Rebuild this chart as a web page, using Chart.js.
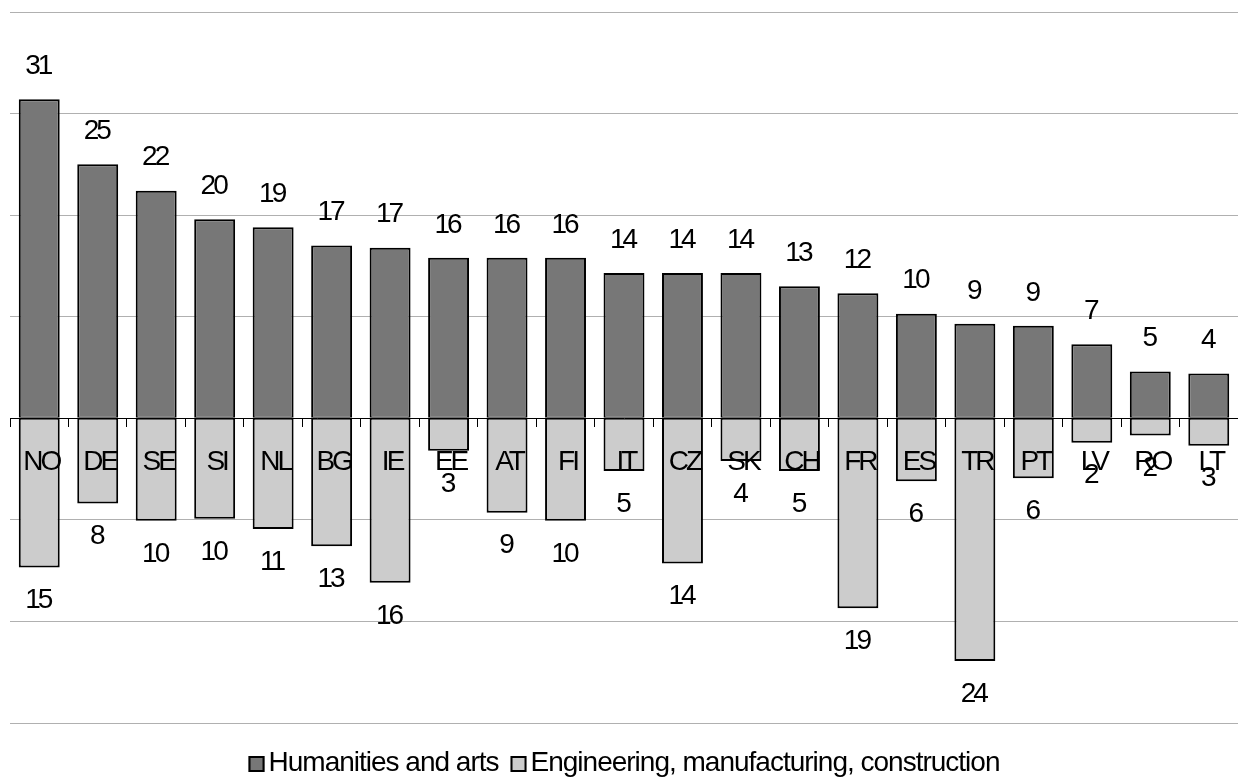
<!DOCTYPE html>
<html>
<head>
<meta charset="utf-8">
<script src="https://cdn.jsdelivr.net/npm/chart.js@4/dist/chart.umd.min.js"></script>
<style>
  html, body { margin: 0; padding: 0; background: #fff; }
  #wrap { width: 1238px; height: 778px; }
</style>
</head>
<body>
<div id="wrap"><canvas id="chart"></canvas></div>
<script>
const countries = ["NO", "DE", "SE", "SI", "NL", "BG", "IE", "EE", "AT", "FI", "IT",
  "CZ", "SK", "CH", "FR", "ES", "TR", "PT", "LV", "RO", "LT"];

// shares (bar heights), labels show the rounded figure
const humanities = [31.4, 25.0, 22.4, 19.6, 18.8, 17.0, 16.8, 15.8, 15.8, 15.8, 14.3,
  14.3, 14.3, 13.0, 12.3, 10.3, 9.3, 9.1, 7.3, 4.6, 4.4];
const engineering = [14.7, 8.4, 10.1, 9.9, 10.9, 12.6, 16.2, 3.2, 9.3, 10.1, 5.2,
  14.3, 4.2, 5.2, 18.7, 6.2, 23.9, 5.9, 2.4, 1.7, 2.7];

const FONT = "'Liberation Sans', Arial, sans-serif";

// values, country names and legend, all drawn over the bars with squeezed text
const overlay = {
  id: "overlay",
  afterDatasetsDraw(chart) {
    const ctx = chart.ctx;
    const x = chart.scales.x;
    const y0 = chart.scales.y.getPixelForValue(0);
    ctx.save();
    ctx.fillStyle = "#000";
    ctx.textAlign = "center";
    ctx.textBaseline = "middle";
    ctx.font = "28px " + FONT;
    ctx.letterSpacing = "-3px";

    chart.data.datasets.forEach((ds, i) => {
      chart.getDatasetMeta(i).data.forEach((bar, j) => {
        const v = ds.data[j];
        const ty = v >= 0 ? bar.y - 33 : bar.y + 33;
        ctx.fillText(Math.round(Math.abs(v)), bar.x - 1.5, ty);
      });
    });

    chart.data.labels.forEach((lab, j) => {
      ctx.fillText(lab, x.getPixelForValue(j) + 2, y0 + 44);
    });

    // legend
    ctx.letterSpacing = "-1px";
    ctx.textAlign = "left";
    const items = chart.data.datasets.map((ds) => ({
      text: ds.label, color: ds.backgroundColor, w: ctx.measureText(ds.label).width
    }));
    const total = items.reduce((s, it) => s + 16 + 4 + it.w, 0) + 12 * (items.length - 1);
    let lx = (chart.chartArea.left + chart.chartArea.right) / 2 - total / 2;
    const ly = 763;
    items.forEach((it) => {
      ctx.fillStyle = it.color;
      ctx.fillRect(lx, ly - 7, 16, 16);
      ctx.strokeStyle = "#000";
      ctx.lineWidth = 2;
      ctx.strokeRect(lx + 1, ly - 6, 14, 14);
      ctx.fillStyle = "#000";
      ctx.fillText(it.text, lx + 20, ly);
      lx += 16 + 4 + it.w + 12;
    });
    ctx.restore();
  }
};

new Chart(document.getElementById("chart"), {
  type: "bar",
  data: {
    labels: countries,
    datasets: [
      {
        label: "Humanities and arts",
        data: humanities,
        backgroundColor: "#777777",
        borderColor: "#000",
        borderWidth: { top: 2, left: 2, right: 2, bottom: 1 },
        borderSkipped: false
      },
      {
        label: "Engineering, manufacturing, construction",
        data: engineering.map((v) => -v),
        backgroundColor: "#cccccc",
        borderColor: "#000",
        borderWidth: { top: 1, left: 2, right: 2, bottom: 2 },
        borderSkipped: false
      }
    ]
  },
  options: {
    responsive: true,
    maintainAspectRatio: false,
    animation: false,
    layout: { padding: { left: 10, right: 0, top: 12, bottom: 55 } },
    datasets: { bar: { categoryPercentage: 1, barPercentage: 0.7 } },
    plugins: {
      tooltip: { enabled: false },
      legend: { display: false }
    },
    scales: {
      x: {
        stacked: true,
        position: { y: 0 },
        offset: true,
        grid: {
          offset: true,
          drawOnChartArea: false,
          drawTicks: true,
          tickLength: 8,
          color: "#000"
        },
        border: { display: true, color: "#000", width: 1 },
        ticks: { display: false, autoSkip: false }
      },
      y: {
        stacked: true,
        min: -30,
        max: 40,
        ticks: { display: false, stepSize: 10 },
        border: { display: false },
        grid: { color: "#b0b0b0", lineWidth: 1, drawTicks: false }
      }
    }
  },
  plugins: [overlay]
});
</script>
</body>
</html>
